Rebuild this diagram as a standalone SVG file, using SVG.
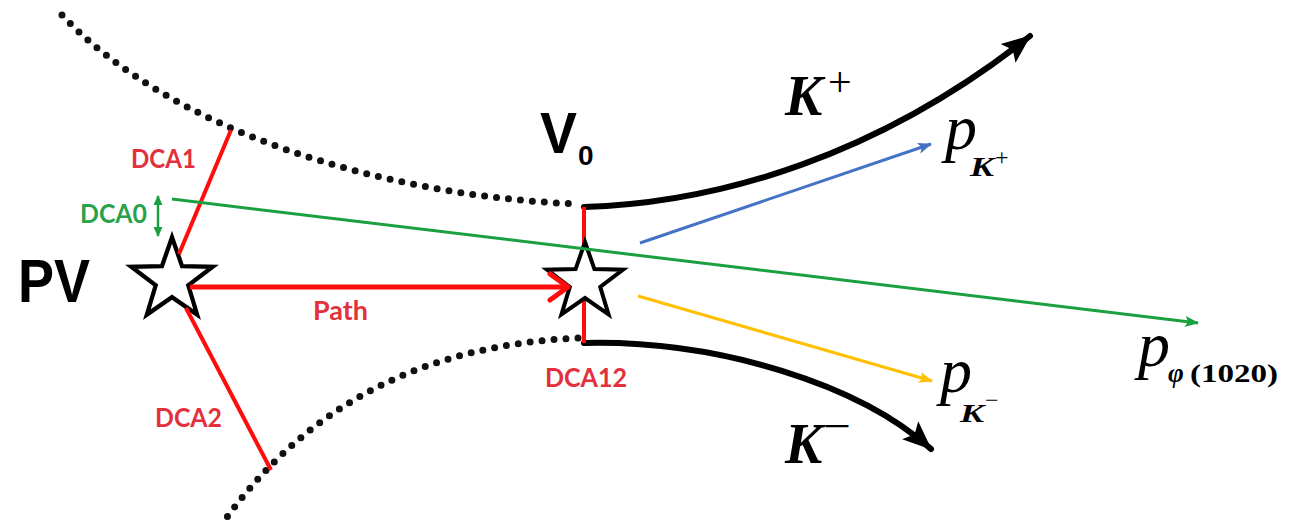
<svg xmlns="http://www.w3.org/2000/svg" width="1293" height="529" viewBox="0 0 1293 529">
<style>
.dots{fill:none;stroke:#111;stroke-width:7;stroke-linecap:round;stroke-dasharray:0 12}
.track{fill:none;stroke:#000;stroke-width:6;stroke-linecap:round}
.red{fill:none;stroke:#ff0d0d;stroke-width:4}
.lbl{font-family:Lato,"Open Sans","Liberation Sans",sans-serif;font-weight:bold;font-size:26px}
.lr{fill:#e2303c}
.lg{fill:#2aa24a}
.star{fill:#fff;stroke:#000;stroke-width:4;stroke-linejoin:miter}
.big{font-family:"Liberation Sans",Arial,sans-serif;font-weight:bold;fill:#000}
.m{font-family:"Liberation Serif","DejaVu Serif",serif;fill:#000}
.it{font-style:italic}
.bi{font-style:italic;font-weight:bold}
.b{font-weight:bold}
</style>
<defs>
<path id="starShape" d="M0,-40 L9.40,-12.94 L38.04,-12.36 L15.22,4.94 L23.51,32.36 L0,16 L-23.51,32.36 L-15.22,4.94 L-38.04,-12.36 L-9.40,-12.94 Z"/>
<marker id="ahBlack" markerUnits="userSpaceOnUse" viewBox="0 0 30 26" markerWidth="30" markerHeight="26" refX="28" refY="13" orient="auto"><path d="M0,1 L29,13 L0,25 L6,13 Z" fill="#000"/></marker>
<marker id="ahBlue" markerUnits="userSpaceOnUse" viewBox="0 0 14 12" markerWidth="14" markerHeight="12" refX="13" refY="6" orient="auto"><path d="M0,0.5 L14,6 L0,11.5 L3,6 Z" fill="#4472c4"/></marker>
<marker id="ahOrange" markerUnits="userSpaceOnUse" viewBox="0 0 14 12" markerWidth="14" markerHeight="12" refX="13" refY="6" orient="auto"><path d="M0,0.5 L14,6 L0,11.5 L3,6 Z" fill="#ffc000"/></marker>
<marker id="ahGreen" markerUnits="userSpaceOnUse" viewBox="0 0 14 12" markerWidth="14" markerHeight="12" refX="13" refY="6" orient="auto"><path d="M0,0.5 L14,6 L0,11.5 L3,6 Z" fill="#1aa040"/></marker>
<marker id="ahGreenS" markerUnits="userSpaceOnUse" viewBox="0 0 10 10" markerWidth="10" markerHeight="10" refX="9" refY="5" orient="auto-start-reverse"><path d="M0,0.5 L10,5 L0,9.5 Z" fill="#1aa040"/></marker>
<marker id="ahPath" markerUnits="userSpaceOnUse" viewBox="0 0 28 34" markerWidth="28" markerHeight="34" refX="23" refY="17" orient="auto"><path d="M4,4 L22,17 L4,30" fill="none" stroke="#ff0d0d" stroke-width="5" stroke-linecap="round" stroke-linejoin="round"/></marker>
</defs>
<rect width="1293" height="529" fill="#fff"/>

<g id="connectors">
  <path id="envelope-upper" class="dots" d="M62,15 C170,130 380,196 578,204"/>
  <path id="envelope-lower" class="dots" d="M578,338 C430,345 310,400 222,524"/>
  <path id="track-kplus" class="track" d="M584,207 C720,203 880,155 1030,36" marker-end="url(#ahBlack)"/>
  <path id="track-kminus" class="track" d="M584,343 C720,340 860,385 931,449" marker-end="url(#ahBlack)"/>
  <line id="dca12" class="red" x1="584" y1="207" x2="584" y2="343"/>
</g>

<g id="node-pv">
  <text class="big" x="18" y="302" font-size="61" textLength="72" lengthAdjust="spacingAndGlyphs">PV</text>
  <use href="#starShape" class="star" transform="translate(172,280) scale(1.07)"/>
</g>
<g id="node-v0">
  <use href="#starShape" class="star" transform="translate(585,282)"/>
  <text class="big" x="540" y="153" font-size="57" textLength="37" lengthAdjust="spacingAndGlyphs">V</text>
  <text class="big" x="578" y="165" font-size="28">0</text>
</g>

<g id="connectors-front">
  <line id="dca1" class="red" x1="231" y1="130" x2="179" y2="254"/>
  <line id="dca2" class="red" x1="186" y1="308" x2="271" y2="470"/>
  <line id="path" fill="none" stroke="#ff0d0d" stroke-width="5" x1="190" y1="287" x2="569" y2="287" marker-end="url(#ahPath)"/>
  <line id="p-phi" stroke="#1aa040" stroke-width="3" x1="172" y1="199" x2="1198" y2="323" marker-end="url(#ahGreen)"/>
  <line id="dca0-arrow" stroke="#1aa040" stroke-width="2.5" x1="158" y1="196" x2="158" y2="236" marker-start="url(#ahGreenS)" marker-end="url(#ahGreenS)"/>
  <line id="p-kplus" stroke="#4472c4" stroke-width="3" x1="640" y1="243" x2="931" y2="144" marker-end="url(#ahBlue)"/>
  <line id="p-kminus" stroke="#ffc000" stroke-width="3" x1="638" y1="296" x2="932" y2="381" marker-end="url(#ahOrange)"/>
</g>

<g id="labels">
  <text class="lbl lr" x="131" y="168" textLength="65" lengthAdjust="spacingAndGlyphs">DCA1</text>
  <text class="lbl lg" x="80" y="223" textLength="67" lengthAdjust="spacingAndGlyphs">DCA0</text>
  <text class="lbl lr" x="155" y="427" textLength="67" lengthAdjust="spacingAndGlyphs">DCA2</text>
  <text class="lbl lr" x="545" y="387" textLength="82" lengthAdjust="spacingAndGlyphs">DCA12</text>
  <text class="lbl lr" x="313" y="320" textLength="55" lengthAdjust="spacingAndGlyphs">Path</text>
</g>

<g id="label-kplus">
  <text class="m bi" x="785" y="115" font-size="56">K</text>
  <text class="m" x="828" y="96" font-size="42">+</text>
</g>
<g id="label-kminus">
  <text class="m bi" x="785" y="463" font-size="56">K</text>
  <text class="m" x="823" y="441" font-size="44" textLength="28" lengthAdjust="spacingAndGlyphs">−</text>
</g>
<g id="label-pkplus">
  <text class="m it" x="945" y="149" font-size="64">p</text>
  <text class="m bi" x="970" y="176" font-size="27" textLength="24" lengthAdjust="spacingAndGlyphs">K</text>
  <text class="m" x="995" y="165" font-size="24">+</text>
</g>
<g id="label-pkminus">
  <text class="m it" x="940" y="392" font-size="64">p</text>
  <text class="m bi" x="960" y="422" font-size="25" textLength="24" lengthAdjust="spacingAndGlyphs">K</text>
  <text class="m" x="985" y="408" font-size="24">−</text>
</g>
<g id="label-pphi">
  <text class="m it" x="1138" y="366" font-size="64">p</text>
  <text class="m bi" x="1168" y="382" font-size="27">φ</text>
  <text class="m b" x="1190" y="382" font-size="26" textLength="88" lengthAdjust="spacingAndGlyphs">(1020)</text>
</g>
</svg>
